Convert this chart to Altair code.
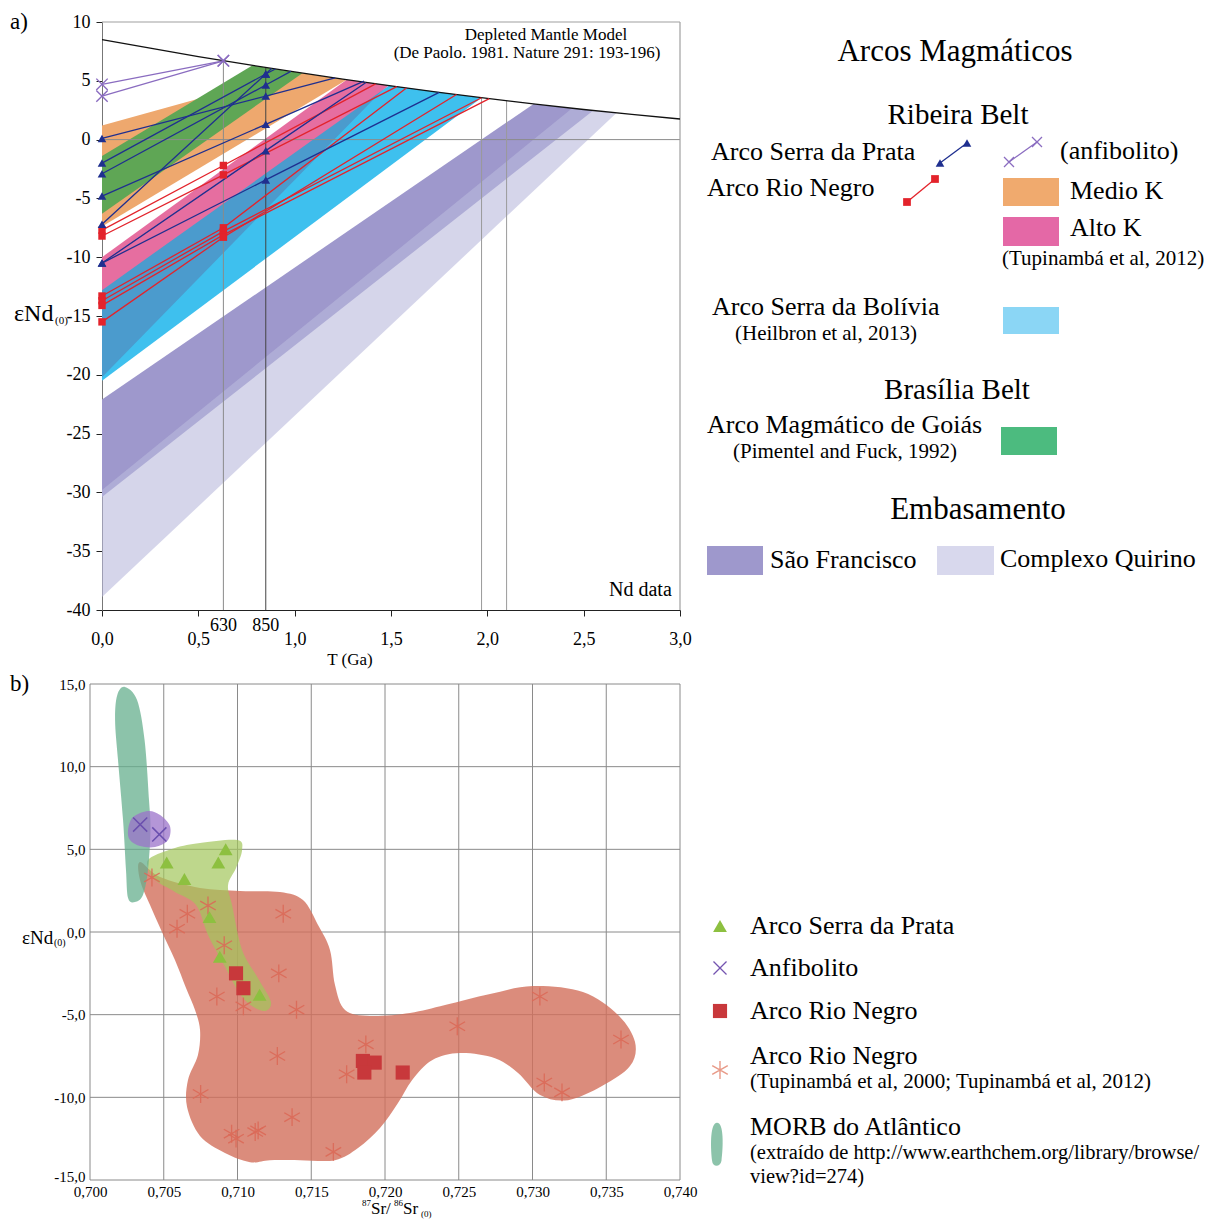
import altair as alt
import pandas as pd

SERIF = "Liberation Serif"

# ======================= panel a : Nd evolution diagram =======================
xA_ticks = [0, 0.5, 1.0, 1.5, 2.0, 2.5, 3.0]
yA_ticks = [10, 5, 0, -5, -10, -15, -20, -25, -30, -35, -40]

# depleted mantle curve (De Paolo 1981)
dm_T = [0, 0.25, 0.5, 0.75, 1.0, 1.25, 1.5, 1.75, 2.0, 2.25, 2.5, 2.75, 3.0]
dm_E = [8.5, 7.77, 7.06, 6.39, 5.75, 5.14, 4.56, 4.02, 3.5, 3.02, 2.56, 2.14, 1.75]

# fields (polygons, T in Ga / eNd)
sf_T = [0, 2.24, 2.55, 0]
sf_E = [-22.1, 3.03, 2.48, -30.4]
qu_T = [0, 2.44, 2.67, 0]
qu_E = [-29.8, 2.67, 2.27, -38.9]
bol_T = [0, 1.49, 1.97, 0]
bol_E = [-11.5, 4.59, 3.56, -20.5]
bol2_T = [0, 1.48, 0]
bol2_E = [-12.6, 4.61, -20.2]
altoK_T = [0, 1.27, 1.49, 0]
altoK_E = [-10.0, 5.09, 4.59, -12.8]
medK_T = [0, 1.0, 1.27, 0]
medK_E = [1.2, 5.75, 5.09, -7.4]
goias_T = [0, 0.78, 1.04, 0]
goias_E = [-1.4, 6.31, 5.65, -6.3]

# Arco Serra da Prata (present, 850 Ma, TDM)
sp_E0 = [0.1, -2.0, -2.9, -4.8, -7.2, -10.5, -10.5]
sp_E850 = [3.7, 5.58, 4.64, 1.3, 5.58, -0.94, -3.43]
sp_Tdm = [1.21, 0.90, 0.98, 1.36, 0.88, 1.37, 1.75]
sp_Edm = [5.24, 6.0, 5.8, 4.97, 6.05, 4.86, 4.02]
# Arco Rio Negro (present, 630 Ma, TDM)
rn_E0 = [-7.7, -8.2, -13.3, -13.7, -14.1, -15.5]
rn_E630 = [-2.2, -3.0, -7.5, -7.8, -8.1, -8.3]
rn_Tdm = [1.42, 1.53, 1.58, 1.97, 2.01, 1.84]
rn_Edm = [4.74, 4.5, 4.38, 3.56, 3.48, 3.83]
# anfibolito (present, 630 Ma)
am_E0 = [4.7, 3.7]
am_E630 = [6.7, 6.7]

# reference verticals
vl_T = [0.63, 0.85, 1.97, 2.1]
vl_top = [6.71, 6.13, 3.56, 3.30]
vl_col = ["#8a8a8a", "#444444", "#9a9a9a", "#9a9a9a"]
age_T = [0.63, 0.85]
age_lbl = ["630", "850"]

# ======================= panel b : Sr-Nd diagram =======================
xB_ticks = [0.700, 0.705, 0.710, 0.715, 0.720, 0.725, 0.730, 0.735, 0.740]
yB_ticks = [15, 10, 5, 0, -5, -10, -15]

tri_Sr = [0.7052, 0.7064, 0.7092, 0.7087, 0.7081, 0.7088, 0.7115]
tri_Nd = [4.2, 3.2, 5.0, 4.2, 0.9, -1.5, -3.8]
anf_Sr = [0.7034, 0.7047]
anf_Nd = [6.5, 5.9]
sq_Sr = [0.7099, 0.7104, 0.7185, 0.7193, 0.7186, 0.7212]
sq_Nd = [-2.5, -3.4, -7.8, -7.9, -8.5, -8.5]
ast_Sr = [0.7042, 0.7066, 0.7080, 0.7131, 0.7059, 0.7091, 0.7128, 0.7086, 0.7104,
          0.7140, 0.7127, 0.7174, 0.7187, 0.7075, 0.7096, 0.7099, 0.7114, 0.7112,
          0.7137, 0.7165, 0.7249, 0.7305, 0.7360, 0.7308, 0.7320]
ast_Nd = [3.3, 1.1, 1.6, 1.1, 0.2, -0.8, -2.5, -3.9, -4.5,
          -4.7, -7.5, -8.6, -6.8, -9.8, -12.2, -12.5, -12.0, -12.1,
          -11.2, -13.3, -5.7, -3.9, -6.5, -9.1, -9.7]

morb_Sr = [0.70237, 0.70319, 0.70370, 0.70400, 0.70410, 0.70393, 0.70359, 0.70305,
           0.70258, 0.70244, 0.70224, 0.70190, 0.70170, 0.70185]
morb_Nd = [14.82, 14.03, 11.61, 7.98, 6.17, 3.75, 2.24, 1.81, 2.05, 3.75, 6.77, 10.40, 12.82, 14.33]
anfb_Sr = [0.70258, 0.70292, 0.70393, 0.70475, 0.70542, 0.70529, 0.70441, 0.70339, 0.70271]
anfb_Nd = [6.17, 6.95, 7.32, 7.08, 6.41, 5.56, 5.14, 5.20, 5.56]
grn_Sr = [0.70407, 0.70576, 0.70746, 0.70997, 0.71031, 0.70990, 0.70936, 0.70963, 0.71031,
          0.71139, 0.71227, 0.71173, 0.71037, 0.70908, 0.70800, 0.70719, 0.70576, 0.70441, 0.70393]
grn_Nd = [4.47, 5.08, 5.38, 5.56, 4.96, 3.87, 2.84, 1.63, -1.09,
          -2.79, -4.24, -4.78, -3.99, -2.00, -0.18, 1.63, 2.42, 3.14, 3.87]
red_Sr = [0.70339, 0.70475, 0.70746, 0.71017, 0.71288, 0.71444, 0.71546, 0.71627, 0.71661,
          0.71729, 0.71898, 0.72169, 0.72407, 0.72712, 0.73003, 0.73342, 0.73580, 0.73695,
          0.73661, 0.73471, 0.73241, 0.73051, 0.72902, 0.72746, 0.72508, 0.72319, 0.72183,
          0.72088, 0.71966, 0.71817, 0.71661, 0.71424, 0.71220, 0.71085, 0.70915, 0.70746,
          0.70658, 0.70664, 0.70732, 0.70746, 0.70712, 0.70651, 0.70576, 0.70488, 0.70407, 0.70339]
red_Nd = [4.23, 3.32, 2.66, 2.48, 2.42, 1.93, 0.42, -1.09, -3.21,
          -4.72, -5.08, -4.90, -4.42, -3.75, -3.27, -3.63, -5.02, -6.66,
          -8.11, -9.32, -10.17, -9.86, -8.53, -7.63, -7.32, -7.75, -8.96,
          -10.35, -11.86, -13.07, -13.80, -13.80, -13.80, -13.92, -13.37, -12.34,
          -10.59, -8.96, -7.44, -5.93, -4.72, -3.39, -1.70, 0.00, 1.63, 3.14]

# ======================= legend texts =======================
legA_left_txt = ["Arco Serra da Prata", "Arco Rio Negro", "(anfibolito)", "Medio K", "Alto K",
                 "(Tupinambá et al, 2012)", "Arco Serra da Bolívia", "(Heilbron et al, 2013)",
                 "Arco Magmático de Goiás", "(Pimentel and Fuck, 1992)", "São Francisco",
                 "Complexo Quirino"]
legA_center_txt = ["Arcos Magmáticos", "Ribeira Belt", "Brasília Belt", "Embasamento"]
legA_rect_col = ["#f0aa6e", "#e468a6", "#8bd6f5", "#4cbb7f", "#9e98cc", "#d8d8ed"]

legB_txt = ["Arco Serra da Prata", "Anfibolito", "Arco Rio Negro", "Arco Rio Negro",
            "(Tupinambá et al, 2000; Tupinambá et al, 2012)", "MORB do Atlântico",
            "(extraído de http://www.earthchem.org/library/browse/", "view?id=274)"]

# ---------------- layout (pixels, relative to each plot origin) ----------------
legA_left_x = [609, 605, 958, 968, 968, 900, 610, 633, 605, 631, 668, 898]
legA_left_y = [130, 166, 129, 169, 206, 237, 285, 312, 403, 430, 538, 537]
legA_left_fs = [26, 26, 26, 26, 26, 21, 26, 21, 26, 21, 26, 26]
legA_center_x = [853, 856, 855, 876]
legA_center_y = [30, 93, 368, 488]
legA_center_fs = [31, 29, 29, 31]
legA_rect = [(901, 957, 156, 184), (901, 957, 195, 224), (901, 957, 285, 312),
             (899, 955, 405, 433), (605, 661, 524, 553), (835, 892, 524, 553)]
legA_lines = {"sp": [(838, 141), (865, 121)], "rn": [(805, 180), (833, 157)],
              "am": [(907, 140), (935, 120)]}

# panel b shares the plot origin of panel a; its own frame starts 12 px further left
B_SHIFT = -12
legB_x = [648] * 8
legB_y = [242, 284, 327, 372, 398, 443, 469, 493]
legB_fs = [26, 26, 26, 26, 21, 26, 20.5, 20.5]
legB_sym = {"tri": (618, 242), "x": (618, 284), "sq": (618, 327), "ast": (618, 386), "morb": (615, 461)}

# ---------------- colours ----------------
C_SP = "#1f2f8f"
C_RN = "#e3232b"
C_AM = "#8a6cc0"
X_PATH = "M-1,-1L1,1M-1,1L1,-1"
AST_PATH = "M0,-1L0,1M-0.87,-0.5L0.87,0.5M-0.87,0.5L0.87,-0.5"
BLOB_PATH = "M0,-1C0.32,-1 0.28,0.1 0.2,0.7C0.15,1 -0.2,1 -0.22,0.7C-0.3,0 -0.3,-1 0,-1Z"

# ======================= helpers =======================
xA_scale = alt.Scale(domain=[0, 3], range=[0, 578], nice=False, zero=False)
yA_scale = alt.Scale(domain=[-40, 10], nice=False, zero=False)
axA_x = alt.Axis(values=xA_ticks, labelExpr="replace(format(datum.value, '.1f'), '.', ',')",
                 title=None, grid=False, domainColor="#222", tickColor="#222", tickSize=6,
                 labelPadding=14, labelFont=SERIF, labelFontSize=18, labelColor="black",
                 labelFlush=False, labelOverlap=False)
axA_y = alt.Axis(values=yA_ticks, labelExpr="'' + datum.value", title=None, grid=False,
                 domainColor="#777", tickColor="#222", tickSize=6, labelPadding=6,
                 labelFont=SERIF, labelFontSize=18, labelColor="black", labelFlush=False,
                 labelOverlap=False)


def XA(f="T"):
    return alt.X(f"{f}:Q", scale=xA_scale, axis=axA_x)


def YA(f="E"):
    return alt.Y(f"{f}:Q", scale=yA_scale, axis=axA_y)


xB_scale = alt.Scale(domain=[0.700, 0.740], range=[B_SHIFT, 590 + B_SHIFT], nice=False, zero=False)
yB_scale = alt.Scale(domain=[-15, 15], nice=False, zero=False)
axB_x = alt.Axis(values=xB_ticks, labelExpr="replace(format(datum.value, '.3f'), '.', ',')",
                 title=None, grid=False, domain=False, ticks=False, labelPadding=4,
                 labelFont=SERIF, labelFontSize=15, labelColor="black", labelFlush=False,
                 labelOverlap=False)
axB_y = alt.Axis(values=yB_ticks,
                 labelExpr="(datum.value < 0 ? '-' : '') + replace(format(abs(datum.value), '.1f'), '.', ',')",
                 title=None, grid=False, domain=False, ticks=False, labelPadding=5, offset=-B_SHIFT,
                 labelOffset={"condition": {"test": "datum.value == -15", "value": -4}, "value": 0},
                 labelFont=SERIF, labelFontSize=15, labelColor="black", labelFlush=False,
                 labelOverlap=False)


def XB(f="Sr"):
    return alt.X(f"{f}:Q", scale=xB_scale, axis=axB_x)


def YB(f="Nd"):
    return alt.Y(f"{f}:Q", scale=yB_scale, axis=axB_y)


PX = alt.X("px:Q", scale=None)
PY = alt.Y("py:Q", scale=None)


def polyA(T, E, color, opacity=1.0):
    df = pd.DataFrame({"T": T, "E": E, "i": list(range(len(T)))})
    return alt.Chart(df).mark_line(filled=True, fill=color, fillOpacity=opacity, strokeOpacity=0,
                                   strokeWidth=0, interpolate="linear-closed").encode(
        x=XA(), y=YA(), order=alt.Order("i:Q"))


def polyB(S, N, color, opacity):
    df = pd.DataFrame({"Sr": S, "Nd": N, "i": list(range(len(S)))})
    return alt.Chart(df).mark_line(filled=True, fill=color, fillOpacity=opacity, strokeOpacity=0,
                                   strokeWidth=0, interpolate="cardinal-closed").encode(
        x=XB(), y=YB(), order=alt.Order("i:Q"))


def lines_df(pts_list):
    rows = []
    for k, pts in enumerate(pts_list):
        for i, (t, e) in enumerate(pts):
            rows.append({"id": k, "i": i, "T": t, "E": e})
    return pd.DataFrame(rows)


def text_value(txt, x, y, size, align="left", color="black", font=SERIF):
    return alt.Chart(pd.DataFrame({"t": [txt]})).mark_text(
        font=font, fontSize=size, align=align, baseline="middle", color=color).encode(
        x=alt.value(x), y=alt.value(y), text="t:N")


# ======================= panel a layers =======================
layersA = [
    polyA(sf_T, sf_E, "#9e98cc"),
    polyA(qu_T, qu_E, "#b9b9dc", 0.6),
    polyA(bol_T, bol_E, "#3ec0ee"),
    polyA(bol2_T, bol2_E, "#4b9bcd"),
    polyA(altoK_T, altoK_E, "#e66ea0"),
    polyA(medK_T, medK_E, "#eea86e"),
    polyA(goias_T, goias_E, "#5fa655"),
]

# zero line and frame
layersA.append(alt.Chart(pd.DataFrame({"T": [0], "T2": [3], "E": [0]})).mark_rule(
    color="#8c8c8c", strokeWidth=1).encode(x=XA(), x2="T2:Q", y=YA()))
layersA.append(alt.Chart(pd.DataFrame({"T": [0], "T2": [3], "E": [10]})).mark_rule(
    color="#a0a0a0", strokeWidth=1.2).encode(x=XA(), x2="T2:Q", y=YA()))
layersA.append(alt.Chart(pd.DataFrame({"T": [3], "E": [-40], "E2": [10]})).mark_rule(
    color="#a0a0a0", strokeWidth=1.2).encode(x=XA(), y=YA(), y2="E2:Q"))
# verticals
vdf = pd.DataFrame({"T": vl_T, "E": [-40] * len(vl_T), "E2": vl_top, "c": vl_col})
layersA.append(alt.Chart(vdf).mark_rule(strokeWidth=1).encode(
    x=XA(), y=YA(), y2="E2:Q", color=alt.Color("c:N", scale=None)))
# depleted mantle
layersA.append(alt.Chart(pd.DataFrame({"T": dm_T, "E": dm_E})).mark_line(
    color="#111", strokeWidth=1.3).encode(x=XA(), y=YA()))

# sample lines
am_df = lines_df([[(0, a), (0.63, b)] for a, b in zip(am_E0, am_E630)])
sp_df = lines_df([[(0, a), (0.85, b), (c, d)] for a, b, c, d in zip(sp_E0, sp_E850, sp_Tdm, sp_Edm)])
rn_df = lines_df([[(0, a), (0.63, b), (c, d)] for a, b, c, d in zip(rn_E0, rn_E630, rn_Tdm, rn_Edm)])
for df, col in [(am_df, C_AM), (rn_df, C_RN), (sp_df, C_SP)]:
    layersA.append(alt.Chart(df).mark_line(color=col, strokeWidth=1.3).encode(
        x=XA(), y=YA(), detail="id:N", order=alt.Order("i:Q")))

am_pts = am_df[am_df["i"] <= 1]
sp_pts = sp_df[sp_df["i"] <= 1]
rn_pts = rn_df[rn_df["i"] <= 1]
layersA.append(alt.Chart(am_pts).mark_point(shape=X_PATH, size=130, color=C_AM, strokeWidth=1.4,
                                            filled=False, opacity=1).encode(x=XA(), y=YA()))
layersA.append(alt.Chart(rn_pts).mark_point(shape="square", size=55, color=C_RN, filled=True,
                                            opacity=1).encode(x=XA(), y=YA()))
layersA.append(alt.Chart(sp_pts).mark_point(shape="triangle-up", size=75, color=C_SP, filled=True,
                                            opacity=1).encode(x=XA(), y=YA()))

# age labels 630 / 850
layersA.append(alt.Chart(pd.DataFrame({"T": age_T, "lbl": age_lbl})).mark_text(
    font=SERIF, fontSize=18, baseline="middle", color="black").encode(
    x=XA(), y=alt.value(604), text="lbl:N"))

# annotations
layersA += [
    text_value("Depleted Mantle Model", 444, 13, 17, "center"),
    text_value("(De Paolo. 1981. Nature 291: 193-196)", 425, 31, 17, "center"),
    text_value("Nd data", 507, 568, 20),
    text_value("T (Ga)", 248, 638, 17, "center"),
    text_value("a)", -92, 0, 23),
    text_value("\u03b5Nd", -88, 292, 24),
    text_value("(0)", -47, 299, 11),
]

# legend a
legA_l = pd.DataFrame({"txt": legA_left_txt, "px": legA_left_x, "py": legA_left_y, "fs": legA_left_fs})
legA_c = pd.DataFrame({"txt": legA_center_txt, "px": legA_center_x, "py": legA_center_y, "fs": legA_center_fs})
layersA.append(alt.Chart(legA_l).mark_text(font=SERIF, align="left", baseline="middle", color="black").encode(
    x=PX, y=PY, text="txt:N", size=alt.Size("fs:Q", scale=None, legend=None)))
layersA.append(alt.Chart(legA_c).mark_text(font=SERIF, align="center", baseline="middle", color="black").encode(
    x=PX, y=PY, text="txt:N", size=alt.Size("fs:Q", scale=None, legend=None)))
rect_df = pd.DataFrame({"px": [r[0] for r in legA_rect], "px2": [r[1] for r in legA_rect],
                        "py": [r[2] for r in legA_rect], "py2": [r[3] for r in legA_rect],
                        "c": legA_rect_col})
layersA.append(alt.Chart(rect_df).mark_rect().encode(
    x=PX, x2="px2:Q", y=PY, y2="py2:Q", color=alt.Color("c:N", scale=None)))
leg_line_rows = []
for key, pts in legA_lines.items():
    for i, (x, y) in enumerate(pts):
        leg_line_rows.append({"k": key, "i": i, "px": x, "py": y})
leg_lines = pd.DataFrame(leg_line_rows)
leg_col = {"sp": C_SP, "rn": C_RN, "am": C_AM}
for key in ["sp", "rn", "am"]:
    d = leg_lines[leg_lines["k"] == key]
    layersA.append(alt.Chart(d).mark_line(color=leg_col[key], strokeWidth=1.3).encode(
        x=PX, y=PY, order=alt.Order("i:Q")))
layersA.append(alt.Chart(leg_lines[leg_lines["k"] == "sp"]).mark_point(
    shape="triangle-up", size=75, color=C_SP, filled=True, opacity=1).encode(x=PX, y=PY))
layersA.append(alt.Chart(leg_lines[leg_lines["k"] == "rn"]).mark_point(
    shape="square", size=60, color=C_RN, filled=True, opacity=1).encode(x=PX, y=PY))
layersA.append(alt.Chart(leg_lines[leg_lines["k"] == "am"]).mark_point(
    shape=X_PATH, size=100, color=C_AM, filled=False, strokeWidth=1.3, opacity=1).encode(x=PX, y=PY))

rowA = alt.layer(*layersA).properties(width=1095, height=588)

# ======================= panel b layers =======================
layersB = []
gv = pd.DataFrame({"Sr": xB_ticks, "Nd": [-15] * len(xB_ticks), "Nd2": [15] * len(xB_ticks)})
gh = pd.DataFrame({"Nd": yB_ticks, "Sr": [0.700] * len(yB_ticks), "Sr2": [0.740] * len(yB_ticks)})
layersB.append(alt.Chart(gv).mark_rule(color="#8a8a8a", strokeWidth=1).encode(x=XB(), y=YB(), y2="Nd2:Q"))
layersB.append(alt.Chart(gh).mark_rule(color="#8a8a8a", strokeWidth=1).encode(x=XB(), x2="Sr2:Q", y=YB()))

layersB += [
    polyB(red_Sr, red_Nd, "#d26f5b", 0.8),
    polyB(grn_Sr, grn_Nd, "#a2c65b", 0.7),
    polyB(morb_Sr, morb_Nd, "#65af8d", 0.75),
    polyB(anfb_Sr, anfb_Nd, "#9b73c9", 0.75),
]

layersB.append(alt.Chart(pd.DataFrame({"Sr": ast_Sr, "Nd": ast_Nd})).mark_point(
    shape=AST_PATH, size=320, color="#dc6a58", filled=False, strokeWidth=1.3, opacity=0.9).encode(
    x=XB(), y=YB()))
layersB.append(alt.Chart(pd.DataFrame({"Sr": tri_Sr, "Nd": tri_Nd})).mark_point(
    shape="triangle-up", size=190, color="#8dc040", filled=True, opacity=1).encode(x=XB(), y=YB()))
layersB.append(alt.Chart(pd.DataFrame({"Sr": anf_Sr, "Nd": anf_Nd})).mark_point(
    shape=X_PATH, size=200, color="#6a4fae", filled=False, strokeWidth=1.5, opacity=1).encode(
    x=XB(), y=YB()))
layersB.append(alt.Chart(pd.DataFrame({"Sr": sq_Sr, "Nd": sq_Nd})).mark_point(
    shape="square", size=200, color="#c8383b", filled=True, opacity=1).encode(x=XB(), y=YB()))

# legend b
legB = pd.DataFrame({"txt": legB_txt, "px": legB_x, "py": legB_y, "fs": legB_fs})
layersB.append(alt.Chart(legB).mark_text(font=SERIF, align="left", baseline="middle", color="black").encode(
    x=PX, y=PY, text="txt:N", size=alt.Size("fs:Q", scale=None, legend=None)))


def sym_df(key):
    return pd.DataFrame({"px": [legB_sym[key][0]], "py": [legB_sym[key][1]]})


layersB += [
    alt.Chart(sym_df("tri")).mark_point(shape="triangle-up", size=190, color="#8dc040",
                                        filled=True, opacity=1).encode(x=PX, y=PY),
    alt.Chart(sym_df("x")).mark_point(shape=X_PATH, size=170, color="#7454b0", filled=False,
                                      strokeWidth=1.3, opacity=1).encode(x=PX, y=PY),
    alt.Chart(sym_df("sq")).mark_point(shape="square", size=200, color="#c8383b",
                                       filled=True, opacity=1).encode(x=PX, y=PY),
    alt.Chart(sym_df("ast")).mark_point(shape=AST_PATH, size=320, color="#e89a88", filled=False,
                                        strokeWidth=1.4, opacity=1).encode(x=PX, y=PY),
    alt.Chart(sym_df("morb")).mark_point(shape=BLOB_PATH, size=2000, color="#65af8d", filled=True,
                                         opacity=0.75).encode(x=PX, y=PY),
]

# axis titles and panel label
layersB += [
    text_value("b)", -92, 0, 23),
    text_value("\u03b5Nd", -80, 254, 19),
    text_value("(0)", -48, 259, 10),
    text_value("87", 260, 519, 9),
    text_value("Sr/", 269, 525, 17),
    text_value("86", 292, 519, 9),
    text_value("Sr", 301, 525, 17),
    text_value("(0)", 319, 530, 9),
]

rowB = alt.layer(*layersB).properties(width=1093, height=496)

chart = alt.vconcat(rowA, rowB, spacing=5).properties(
    padding={"left": 2, "top": 3, "right": 0, "bottom": 0}
).configure_view(stroke=None)

chart.save("out.html", embed_options={"renderer": "svg", "actions": False})
